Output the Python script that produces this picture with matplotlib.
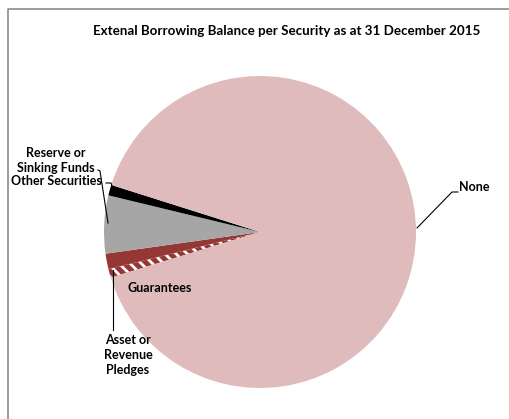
import matplotlib.pyplot as plt
import matplotlib

# 字体设置
matplotlib.rcParams['font.family'] = ['Lato', 'DejaVu Sans']
matplotlib.rcParams['font.weight'] = 'bold'
matplotlib.rcParams['hatch.linewidth'] = 2.0

# 数据：外部借款余额按担保类型划分 (%)
categories = ['Asset or\nRevenue\nPledges', 'Guarantees', 'Other Securities',
              'Reserve or\nSinking Funds', 'None']
shares = [0.9, 1.6, 6.0, 1.1, 90.4]
colors = ['#953735', '#953735', '#A6A6A6', '#000000', '#DFBBBB']
title = 'Extenal Borrowing Balance per Security as at 31 December 2015'

W, H = 510, 419
fig = plt.figure(figsize=(W / 100, H / 100), dpi=100)
ax = fig.add_axes([0, 0, 1, 1])

# 饼图（坐标直接用像素，y 轴向上）
cx, cy, r = 260, H - 232, 156
wedges, _ = ax.pie(shares, colors=colors, startangle=197, counterclock=False,
                   center=(cx, cy), radius=r,
                   wedgeprops=dict(linewidth=0))
wedges[0].set_hatch('\\\\\\')
wedges[0].set_edgecolor('white')

ax.set_xlim(0, W)
ax.set_ylim(0, H)
ax.set_aspect('equal')
ax.axis('off')

# 图表外框
ax.plot([8, 8, W], [0, H - 9, H - 9], color='#8C8C8C', lw=1.2, clip_on=False)

# 标题
ax.text(287, H - 31, title, ha='center', va='center', fontsize=9.6)

# 数据标签与引导线
fs = 9
ax.text(459, H - 187, categories[4], ha='left', va='center', fontsize=fs)
ax.plot([417, 452, 458], [H - 228, H - 192, H - 192], color='black', lw=0.8)

ax.text(160, H - 288, categories[1], ha='center', va='center', fontsize=fs)

ax.text(128, H - 355, categories[0], ha='center', va='center', fontsize=fs,
        linespacing=1.3)
ax.plot([113, 113], [H - 270, H - 330], color='black', lw=0.8)

ax.text(56, H - 160, categories[3], ha='center', va='center', fontsize=fs,
        linespacing=1.3)
ax.plot([98, 100, 108], [H - 170, H - 171, H - 223], color='black', lw=0.8)

ax.text(56, H - 181, categories[2], ha='center', va='center', fontsize=fs)
ax.plot([106, 111, 114], [H - 183, H - 183, H - 192], color='black', lw=0.8)

fig.savefig('out.png', dpi=100)
